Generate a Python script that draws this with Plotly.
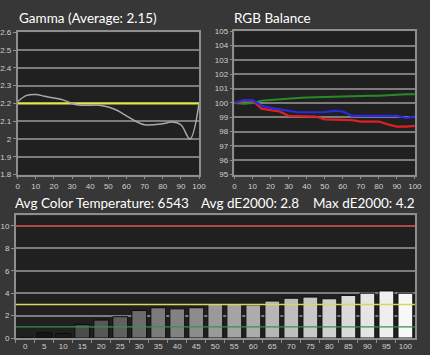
import plotly.graph_objects as go

# ---- data ----
gamma_x = [0, 5, 10, 15, 20, 25, 30, 35, 40, 45, 50, 55, 60, 65, 70, 75, 80, 85, 90, 95, 100]
gamma_y = [2.21, 2.245, 2.25, 2.24, 2.23, 2.22, 2.20, 2.19, 2.19, 2.19, 2.18, 2.16, 2.13, 2.10,
           2.08, 2.08, 2.085, 2.095, 2.08, 2.00, 2.20]
gamma_target = 2.2

rgb_x = gamma_x
red_y = [100.0, 100.15, 100.15, 99.6, 99.5, 99.4, 99.1, 99.1, 99.1, 99.05, 98.85, 98.85, 98.85,
         98.8, 98.7, 98.7, 98.7, 98.5, 98.35, 98.35, 98.4]
green_y = [100.0, 99.95, 100.0, 100.15, 100.2, 100.25, 100.35, 100.35, 100.38, 100.4, 100.45,
           100.45, 100.45, 100.48, 100.5, 100.5, 100.5, 100.55, 100.6, 100.6, 100.6]
blue_y = [100.0, 100.2, 100.2, 99.8, 99.65, 99.55, 99.5, 99.35, 99.35, 99.35, 99.35, 99.45, 99.4,
          99.1, 99.1, 99.1, 99.15, 99.1, 99.1, 98.95, 99.05]

de_cats = ["0", "5", "10", "15", "20", "25", "30", "35", "40", "45", "50", "55", "60", "65",
           "70", "75", "80", "85", "90", "95", "100"]
de_vals = [0.0, 0.5, 0.4, 1.2, 1.6, 1.9, 2.45, 2.7, 2.6, 2.7, 3.0, 3.0, 2.95, 3.3, 3.55, 3.65,
           3.5, 3.8, 4.0, 4.2, 4.0]
de_ref_red = 10
de_ref_yellow = 3
de_ref_green = 1

titles = ["Gamma (Average: 2.15)", "RGB Balance", "Avg Color Temperature: 6543",
          "Avg dE2000: 2.8", "Max dE2000: 4.2"]

# ---- styles ----
bar_colors = ["#222222", "#151515", "#1a1a1a", "#4c4c4c", "#575757", "#606060", "#6c6c6c",
              "#7a7a7a", "#828282", "#8c8c8c", "#9a9a9a", "#a4a4a4", "#acacac", "#b6b6b6",
              "#bebebe", "#c8c8c8", "#d0d0d0", "#dadada", "#e5e5e5", "#eeeeee", "#f8f8f8"]

W, H = 430, 355
BG = "#373737"
PBG = "#202020"
GRID = "#7c7c7c"
FRAME = "#8e8e8e"
TICKF = dict(family="Liberation Sans", size=8, color="#d0d0d0")
TITLEF = dict(family="Lato", size=13.5, color="#ffffff")

def dx(a, b):
    return [a / W, b / W]

def dy(top, bottom):
    return [1 - bottom / H, 1 - top / H]

fig = go.Figure()

# gamma
fig.add_trace(go.Scatter(x=gamma_x, y=[gamma_target] * len(gamma_x), mode="lines",
                         line=dict(color="#e8e83c", width=2), xaxis="x", yaxis="y",
                         hoverinfo="skip"))
fig.add_trace(go.Scatter(x=gamma_x, y=gamma_y, mode="lines", line=dict(color="#a8a8a8", width=1.5),
                         line_shape="spline", xaxis="x", yaxis="y"))

# rgb
fig.add_trace(go.Scatter(x=rgb_x, y=green_y, mode="lines", line=dict(color="#2a8a2a", width=2),
                         xaxis="x2", yaxis="y2"))
fig.add_trace(go.Scatter(x=rgb_x, y=red_y, mode="lines", line=dict(color="#e02020", width=2.2),
                         xaxis="x2", yaxis="y2"))
fig.add_trace(go.Scatter(x=rgb_x, y=blue_y, mode="lines", line=dict(color="#2a2ae0", width=2.2),
                         xaxis="x2", yaxis="y2"))

# dE bars
fig.add_trace(go.Bar(x=de_cats, y=de_vals, marker=dict(color=bar_colors,
                     line=dict(color="#0c0c0c", width=1)), width=0.78,
                     xaxis="x3", yaxis="y3"))
for val, col, wd in [(de_ref_red, "#b04848", 2), (de_ref_yellow, "#d8d860", 1.5),
                     (de_ref_green, "#3c903c", 1.2)]:
    fig.add_shape(type="line", xref="x3 domain", yref="y3", x0=0, x1=1, y0=val, y1=val,
                  line=dict(color=col, width=wd), layer="above")

common_axis = dict(showline=True, mirror=True, linecolor=FRAME, linewidth=1.5,
                   ticks="outside", ticklen=3, tickcolor=FRAME, tickfont=TICKF,
                   zeroline=False, fixedrange=True)

fig.update_layout(
    width=W, height=H, margin=dict(l=0, r=0, t=0, b=0),
    paper_bgcolor=BG, plot_bgcolor=PBG, showlegend=False,
    bargap=0.2,
    xaxis=dict(domain=dx(15, 200.7), range=[0, 100], tickvals=list(range(0, 101, 10)),
               showgrid=False, anchor="y", **common_axis),
    yaxis=dict(domain=dy(29, 175), range=[1.8, 2.6], tickvals=[1.8, 1.9, 2.0, 2.1, 2.2, 2.3, 2.4, 2.5, 2.6],
               ticktext=["1.8", "1.9", "2", "2.1", "2.2", "2.3", "2.4", "2.5", "2.6"],
               showgrid=True, gridcolor=GRID, gridwidth=1.5, anchor="x", **common_axis),
    xaxis2=dict(domain=dx(237, 421.7), range=[0, 100], tickvals=list(range(0, 101, 10)),
                showgrid=False, anchor="y2", **common_axis),
    yaxis2=dict(domain=dy(28, 175), range=[95, 105], tickvals=list(range(95, 106)),
                showgrid=True, gridcolor=GRID, gridwidth=1.5, anchor="x2", **common_axis),
    xaxis3=dict(domain=dx(13, 421.7), type="category", range=[-0.5, 20.5], tickson="boundaries",
                showgrid=False, anchor="y3", **common_axis),
    yaxis3=dict(domain=dy(217, 342.7), range=[0, 10.93], tickvals=[0, 2, 4, 6, 8, 10],
                showgrid=True, gridcolor=GRID, gridwidth=1.5, anchor="x3", **common_axis),
)

fig.add_annotation(text=titles[0], xref="paper", yref="paper", x=14 / W, y=1 - 14 / H,
                   xanchor="left", yanchor="middle", showarrow=False, font=TITLEF)
fig.add_annotation(text=titles[1], xref="paper", yref="paper", x=234 / W, y=1 - 14 / H,
                   xanchor="left", yanchor="middle", showarrow=False, font=TITLEF)
fig.add_annotation(text=titles[2], xref="paper", yref="paper", x=10 / W, y=1 - 204 / H,
                   xanchor="left", yanchor="middle", showarrow=False, font=TITLEF)
fig.add_annotation(text=titles[3], xref="paper", yref="paper", x=201 / W, y=1 - 204 / H,
                   xanchor="left", yanchor="middle", showarrow=False, font=TITLEF)
fig.add_annotation(text=titles[4], xref="paper", yref="paper", x=424 / W, y=1 - 204 / H,
                   xanchor="right", yanchor="middle", showarrow=False, font=TITLEF)

fig.write_html("out.html", config={"displayModeBar": False},
               post_script="document.body.style.margin='0';document.body.style.overflow='hidden';")
